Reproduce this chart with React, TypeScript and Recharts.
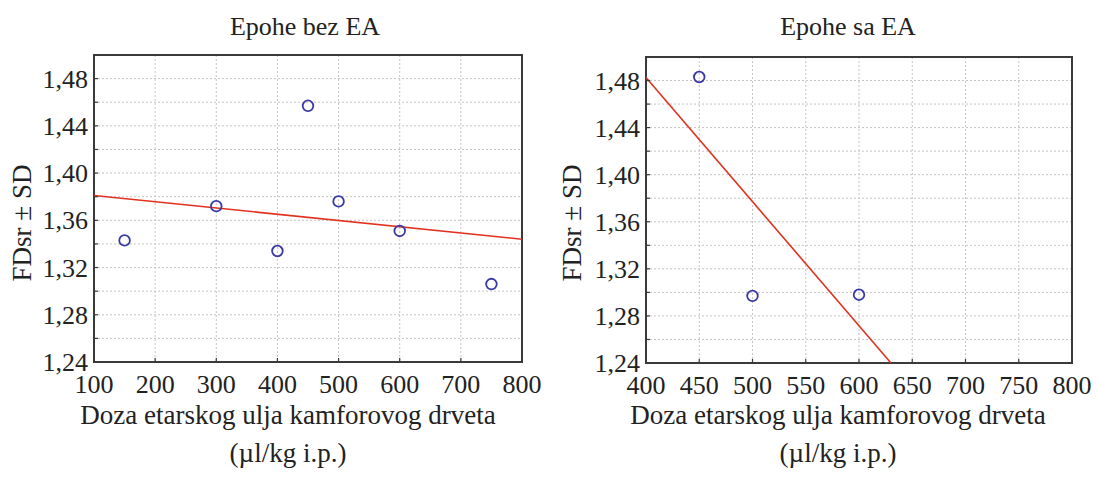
import React from "react";
import { ScatterChart, Scatter, XAxis, YAxis, CartesianGrid, ReferenceArea } from "recharts";

// Epohe bez EA — measured points and fitted line ends
const dosesNoEA = [150, 300, 400, 450, 500, 600, 750];
const fdNoEA = [1.343, 1.372, 1.334, 1.457, 1.376, 1.351, 1.306];
const fitNoEAx = [100, 800];
const fitNoEAy = [1.381, 1.344];

// Epohe sa EA
const dosesEA = [450, 500, 600];
const fdEA = [1.483, 1.297, 1.298];
const fitEAx = [400, 630];
const fitEAy = [1.4826, 1.24];

const xTicksLeft = [100, 200, 300, 400, 500, 600, 700, 800];
const xTicksRight = [400, 450, 500, 550, 600, 650, 700, 750, 800];
const yTicks = [1.24, 1.26, 1.28, 1.3, 1.32, 1.34, 1.36, 1.38, 1.4, 1.42, 1.44, 1.46, 1.48, 1.5];
// small marks along the top edge of each frame
const topMarksLeft = [
  120, 140, 160, 180, 200, 220, 240, 260, 280, 300, 320, 340, 360, 380, 400, 420, 440, 460, 480, 500,
  520, 540, 560, 580, 600, 620, 640, 660, 680, 700, 720, 740, 760, 780,
];
const topMarksRight = [
  410, 420, 430, 440, 450, 460, 470, 480, 490, 500, 510, 520, 530, 540, 550, 560, 570, 580, 590, 600,
  610, 620, 630, 640, 650, 660, 670, 680, 690, 700, 710, 720, 730, 740, 750, 760, 770, 780, 790,
];

const FONT = '"Liberation Serif", "Times New Roman", serif';
const INK = "#222";
const FRAME = "#3a3a3a";
const DOT = "#3a3aa6";
const FIT = "#e0321f";

const zip = (xs: number[], ys: number[]) => xs.map((x, i) => ({ x, y: ys[i] }));

const fmtY = (v: number) => {
  const c = Math.round(v * 100);
  if (c % 4 !== 0 || c === 150) return "";
  return v.toFixed(2).replace(".", ",");
};

const Ring = (p: any) => (
  <circle cx={p.cx} cy={p.cy} r={5.3} fill="none" stroke={DOT} strokeWidth={1.8} />
);

// bottom axis: inward mark + label (tickMargin = 12, tickSize = 0)
const BottomTick = (p: any) => {
  const edge = p.y - 12;
  return (
    <g>
      <line x1={p.x} x2={p.x} y1={edge} y2={edge - 4} stroke={FRAME} strokeWidth={1.2} />
      <text x={p.x} y={edge + 31} textAnchor="middle" fontSize={26} fontFamily={FONT} fill={INK}>
        {p.payload.value}
      </text>
    </g>
  );
};

// left axis: inward mark + label (tickMargin = 6)
const LeftTick = (p: any) => {
  const edge = p.x + 6;
  const label = fmtY(p.payload.value);
  return (
    <g>
      <line x1={edge} x2={edge + 4} y1={p.y} y2={p.y} stroke={FRAME} strokeWidth={1.2} />
      {label && (
        <text x={p.x} y={p.y + 9} textAnchor="end" fontSize={26} fontFamily={FONT} fill={INK}>
          {label}
        </text>
      )}
    </g>
  );
};

// right and top edges: marks only
const RightMark = (p: any) => (
  <line x1={p.x - 6} x2={p.x - 10} y1={p.y} y2={p.y} stroke={FRAME} strokeWidth={1.2} />
);
const TopMark = (p: any) => (
  <line x1={p.x} x2={p.x} y1={p.y + 6} y2={p.y + 10} stroke={FRAME} strokeWidth={1.2} />
);

function Panel({
  left,
  width,
  yAxisWidth,
  top,
  bottomEdge,
  rightGap,
  xTicks,
  topMarks,
  xDomain,
  points,
  fit,
  title,
  titleCx,
  axisCx,
  yLabelCx,
}: {
  left: number;
  width: number;
  yAxisWidth: number;
  top: number;
  bottomEdge: number;
  rightGap: number;
  xTicks: number[];
  topMarks: number[];
  xDomain: [number, number];
  points: { x: number; y: number }[];
  fit: { x: number; y: number }[];
  title: string;
  titleCx: number;
  axisCx: number;
  yLabelCx: number;
}) {
  const H = 481;
  const xAxisH = 40;
  return (
    <div style={{ position: "absolute", left, top: 0, width, height: H }}>
      <ScatterChart
        width={width}
        height={H}
        margin={{ top, right: rightGap, left: 0, bottom: H - bottomEdge - xAxisH }}
      >
        <CartesianGrid stroke="#c4c4c4" strokeDasharray="2 2" />
        <XAxis
          type="number"
          dataKey="x"
          domain={xDomain}
          ticks={xTicks}
          interval={0}
          tickLine={false}
          axisLine={false}
          tickSize={0}
          tickMargin={12}
          height={xAxisH}
          tick={BottomTick}
        />
        <XAxis
          xAxisId="top"
          orientation="top"
          type="number"
          dataKey="x"
          domain={xDomain}
          ticks={topMarks}
          interval={0}
          tickLine={false}
          axisLine={false}
          tickSize={0}
          tickMargin={6}
          height={0}
          tick={TopMark}
        />
        <YAxis
          type="number"
          dataKey="y"
          domain={[1.24, 1.5]}
          ticks={yTicks}
          interval={0}
          tickLine={false}
          axisLine={false}
          tickSize={0}
          tickMargin={6}
          width={yAxisWidth}
          tick={LeftTick}
        />
        <YAxis
          yAxisId="right"
          orientation="right"
          type="number"
          dataKey="y"
          domain={[1.24, 1.5]}
          ticks={yTicks}
          interval={0}
          tickLine={false}
          axisLine={false}
          tickSize={0}
          tickMargin={6}
          width={0}
          tick={RightMark}
        />
        <ReferenceArea
          x1={xDomain[0]}
          x2={xDomain[1]}
          y1={1.24}
          y2={1.5}
          fill="none"
          fillOpacity={0}
          stroke={FRAME}
          strokeWidth={2}
        />
        <Scatter
          data={fit}
          line={{ stroke: FIT, strokeWidth: 1.6 }}
          shape={() => <g />}
          isAnimationActive={false}
        />
        <Scatter data={points} shape={Ring} isAnimationActive={false} />
      </ScatterChart>
      <div
        style={{
          position: "absolute",
          left: titleCx - left - 200,
          width: 400,
          top: 14,
          textAlign: "center",
          fontFamily: FONT,
          fontSize: 26,
          lineHeight: "26px",
          color: INK,
        }}
      >
        {title}
      </div>
      <div
        style={{
          position: "absolute",
          left: axisCx - left - 260,
          width: 520,
          top: 396,
          textAlign: "center",
          fontFamily: FONT,
          fontSize: 27,
          lineHeight: "38px",
          color: INK,
        }}
      >
        Doza etarskog ulja kamforovog drveta
        <br />
        (µl/kg i.p.)
      </div>
      <div
        style={{
          position: "absolute",
          left: yLabelCx - left - 100,
          top: 223 - 15,
          width: 200,
          height: 30,
          lineHeight: "30px",
          textAlign: "center",
          transform: "rotate(-90deg)",
          fontFamily: FONT,
          fontSize: 27,
          color: INK,
        }}
      >
        FDsr ± SD
      </div>
    </div>
  );
}

export default function App() {
  return (
    <div
      style={{
        position: "absolute",
        left: 0,
        top: 0,
        width: 1099,
        height: 481,
        background: "#fff",
        overflow: "hidden",
      }}
    >
      <Panel
        left={0}
        width={550}
        yAxisWidth={94}
        top={55}
        bottomEdge={362}
        rightGap={28}
        xTicks={xTicksLeft}
        topMarks={topMarksLeft}
        xDomain={[100, 800]}
        points={zip(dosesNoEA, fdNoEA)}
        fit={zip(fitNoEAx, fitNoEAy)}
        title="Epohe bez EA"
        titleCx={305}
        axisCx={288}
        yLabelCx={22}
      />
      <Panel
        left={550}
        width={549}
        yAxisWidth={96}
        top={57}
        bottomEdge={363}
        rightGap={27}
        xTicks={xTicksRight}
        topMarks={topMarksRight}
        xDomain={[400, 800]}
        points={zip(dosesEA, fdEA)}
        fit={zip(fitEAx, fitEAy)}
        title="Epohe sa EA"
        titleCx={848}
        axisCx={838}
        yLabelCx={572}
      />
    </div>
  );
}
